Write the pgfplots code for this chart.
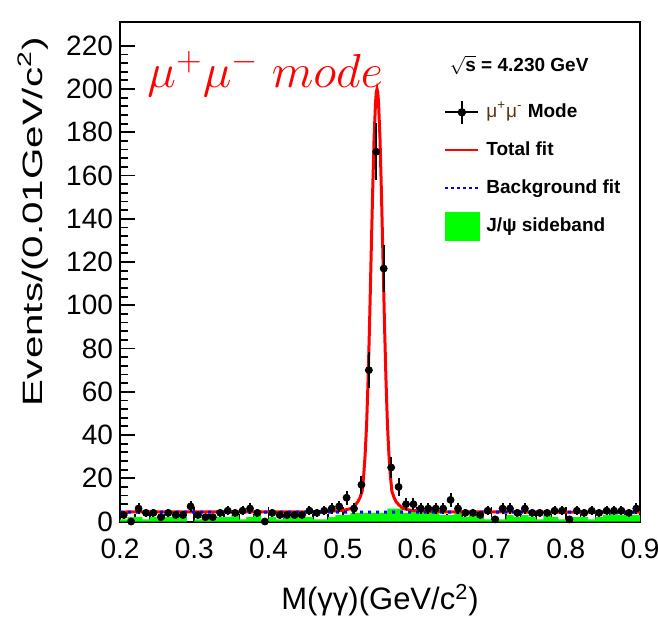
\documentclass[border=0pt]{standalone}
\usepackage{pgfplots}
\pgfplotsset{compat=1.18}
\usepackage{pgfplotstable}
\usepackage{graphicx}
\usepackage{fontspec}
\setmainfont{Liberation Sans}
\usetikzlibrary{calc}
\definecolor{rootgreen}{rgb}{0,1,0}
\definecolor{mubrown}{rgb}{0.35,0.2,0.05}

\pgfplotstableread{
x y e
0.205 3 1.7
0.215 0 0
0.225 6 2.4
0.235 4 2.0
0.245 4 2.0
0.255 2 1.4
0.265 4 2.0
0.275 3 1.7
0.285 3 1.7
0.295 7 2.6
0.305 3 1.7
0.315 2 1.4
0.325 2 1.4
0.335 4 2.0
0.345 5 2.2
0.355 4 2.0
0.365 5 2.2
0.375 6 2.4
0.385 4 2.0
0.395 0 0
0.405 4 2.0
0.415 3 1.7
0.425 3 1.7
0.435 3 1.7
0.445 3 1.7
0.455 5 2.2
0.465 4 2.0
0.475 5 2.2
0.485 6 2.4
0.495 7 2.6
0.505 11 3.3
0.515 6 2.4
0.525 17 4.1
0.535 70 8.4
0.545 171 13.1
0.555 117 10.8
0.565 25 5.0
0.575 16 4.0
0.585 8 2.8
0.595 8 2.8
0.605 6 2.4
0.615 6 2.4
0.625 6 2.4
0.635 6 2.4
0.645 10 3.2
0.655 6 2.4
0.665 4 2.0
0.675 4 2.0
0.685 3 1.7
0.695 5 2.2
0.705 1 1.0
0.715 6 2.4
0.725 6 2.4
0.735 4 2.0
0.745 6 2.4
0.755 4 2.0
0.765 4 2.0
0.775 4 2.0
0.785 5 2.2
0.795 5 2.2
0.805 1 1.0
0.815 5 2.2
0.825 4 2.0
0.835 5 2.2
0.845 4 2.0
0.855 5 2.2
0.865 5 2.2
0.875 5 2.2
0.885 4 2.0
0.895 6 2.4
}\datatab

\pgfplotstableread{
x y
0.20 1
0.21 2
0.22 2
0.23 1
0.24 2
0.25 1
0.26 2
0.27 2
0.28 2
0.29 0
0.30 1
0.31 2
0.32 1
0.33 2
0.34 2
0.35 3
0.36 1
0.37 2
0.38 3
0.39 1
0.40 2
0.41 1
0.42 2
0.43 3
0.44 2
0.45 2
0.46 1
0.47 1
0.48 2
0.49 3
0.50 3
0.51 4
0.52 4
0.53 4
0.54 4
0.55 4
0.56 6
0.57 6
0.58 4
0.59 5
0.60 5
0.61 4
0.62 4
0.63 3
0.64 3
0.65 4
0.66 2
0.67 3
0.68 2
0.69 1
0.70 2
0.71 1
0.72 3
0.73 2
0.74 3
0.75 2
0.76 1
0.77 3
0.78 2
0.79 1
0.80 1
0.81 2
0.82 2
0.83 1
0.84 2
0.85 3
0.86 4
0.87 3
0.88 3
0.89 3
0.90 3
}\sbtab

\pgfplotstableread{
x y
0.200 4.4
0.456 4.5
0.486 4.8
0.501 5.2
0.511 6.0
0.516 7.5
0.520 9
0.523 11
0.526 14
0.528 21
0.530 31
0.532 45
0.534 66
0.536 92
0.538 122
0.540 151
0.542 177
0.544 194
0.545 198.5
0.546 200
0.547 198.5
0.548 194
0.550 177
0.552 151
0.554 122
0.556 92
0.558 66
0.560 45
0.562 31
0.564 21
0.566 14
0.569 11
0.572 9
0.576 7.5
0.581 6
0.591 5.2
0.606 4.8
0.636 4.5
0.750 4.4
0.900 4.3
}\totaltab

\pgfplotstableread{
x y
0.200 4.4
0.400 4.4
0.600 4.35
0.900 4.3
}\bgtab

\begin{document}
\begin{tikzpicture}
\begin{axis}[name=ax,
  scale only axis, width=260pt, height=249.75pt,
  xmin=0.2, xmax=0.9, ymin=0, ymax=231,
  xtick={0.2,0.3,0.4,0.5,0.6,0.7,0.8,0.9},
  xticklabels={0.2,0.3,0.4,0.5,0.6,0.7,0.8,0.9},
  ytick={0,20,40,60,80,100,120,140,160,180,200,220},
  minor x tick num=4, minor y tick num=4,
  xtick pos=left, ytick pos=left,
  tick align=inside,
  major tick length=7.5pt, minor tick length=4pt,
  every tick/.style={black, line width=0.9pt},
  axis line style={line width=1pt},
  scaled ticks=false,
  /pgf/number format/assume math mode=true,
  tick label style={font=\fontsize{14}{16}\selectfont},
  xticklabel style={yshift=-5pt},
  clip=false,
  xlabel={M(γγ)(GeV/c\textsuperscript{2})},
  xlabel style={font=\fontsize{15.5}{18}\selectfont, at={(axis description cs:0.5,-0.157)}, anchor=center},
  ylabel={\scalebox{1.44}[1]{Events/(0.01GeV/c\textsuperscript{2})}},
  ylabel style={font=\fontsize{14}{16}\selectfont, at={(axis description cs:-0.167,0.984)}, anchor=east},
  legend style={at={(rel axis cs:0.625,0.842)}, anchor=north west, draw=none, fill=none,
    inner sep=0pt, font=\fontsize{9.5}{11}\selectfont\bfseries, row sep=8pt,
    nodes={inner sep=1pt, text height=7pt, text depth=2pt},
    /tikz/every odd column/.style={column sep=3pt}},
  legend cell align=left,
]
\addplot[ybar interval, fill=rootgreen, draw=none, forget plot] table[x=x, y=y] {\sbtab};
\addplot[red, line width=1.5pt, forget plot] table[x=x, y=y] {\totaltab};
\addplot[blue, line width=1.5pt, dash pattern=on 1.5pt off 2.5pt, forget plot] table[x=x, y=y] {\bgtab};
\addplot[only marks, mark=*, mark size=1.75pt, black, mark options={fill=black, draw=black}, forget plot,
  error bars/.cd, y dir=both, y explicit, error bar style={line width=1pt, black}, error mark=none]
  table[x=x, y=y, y error=e] {\datatab};

\addlegendimage{legend image code/.code={
  \draw[black, line width=1pt, overlay] (0pt,0pt) -- (16.5pt,0pt);
  \draw[black, line width=1pt, overlay] (8.25pt,-5.75pt) -- (8.25pt,5.75pt);
  \fill[black, overlay] (8.25pt,0pt) circle (1.9pt);
  \path[draw=none, fill=none] (0pt,-3pt) rectangle (16.5pt,3pt);}}
\addlegendentry{{\mdseries\color{mubrown}μ\textsuperscript{+}μ\textsuperscript{-}} Mode}
\addlegendimage{legend image code/.code={
  \draw[red, line width=1pt, overlay] (0pt,0pt) -- (16.5pt,0pt);
  \path[draw=none, fill=none] (0pt,-3pt) rectangle (16.5pt,3pt);}}
\addlegendentry{Total fit}
\addlegendimage{legend image code/.code={
  \draw[blue, line width=1pt, dash pattern=on 1.5pt off 1.5pt, overlay] (0pt,0pt) -- (16.5pt,0pt);
  \path[draw=none, fill=none] (0pt,-3pt) rectangle (16.5pt,3pt);}}
\addlegendentry{Background fit}
\addlegendimage{legend image code/.code={
  \fill[rootgreen, draw=none, overlay] (0pt,-7.25pt) rectangle (17.5pt,7.25pt);
  \path[draw=none, fill=none] (0pt,-3pt) rectangle (16.5pt,3pt);}}
\addlegendentry{J/ψ sideband}

\node[anchor=west, font=\fontsize{9.5}{11}\selectfont\bfseries] at (rel axis cs:0.621,0.914) {$\sqrt{\mbox{s}}$ = 4.230 GeV};
\node[anchor=base west, inner sep=0pt, text=red, font=\fontsize{20}{24}\selectfont] at (rel axis cs:0.052,0.868) {\scalebox{1.17}[1.15]{$\mu^{+}\mu^{-}\ mode$}};
\end{axis}
\pgfresetboundingbox
\path[use as bounding box] ($(ax.south west)+(-60pt,-52.75pt)$) rectangle ($(ax.north east)+(9pt,11pt)$);
\end{tikzpicture}
\end{document}
